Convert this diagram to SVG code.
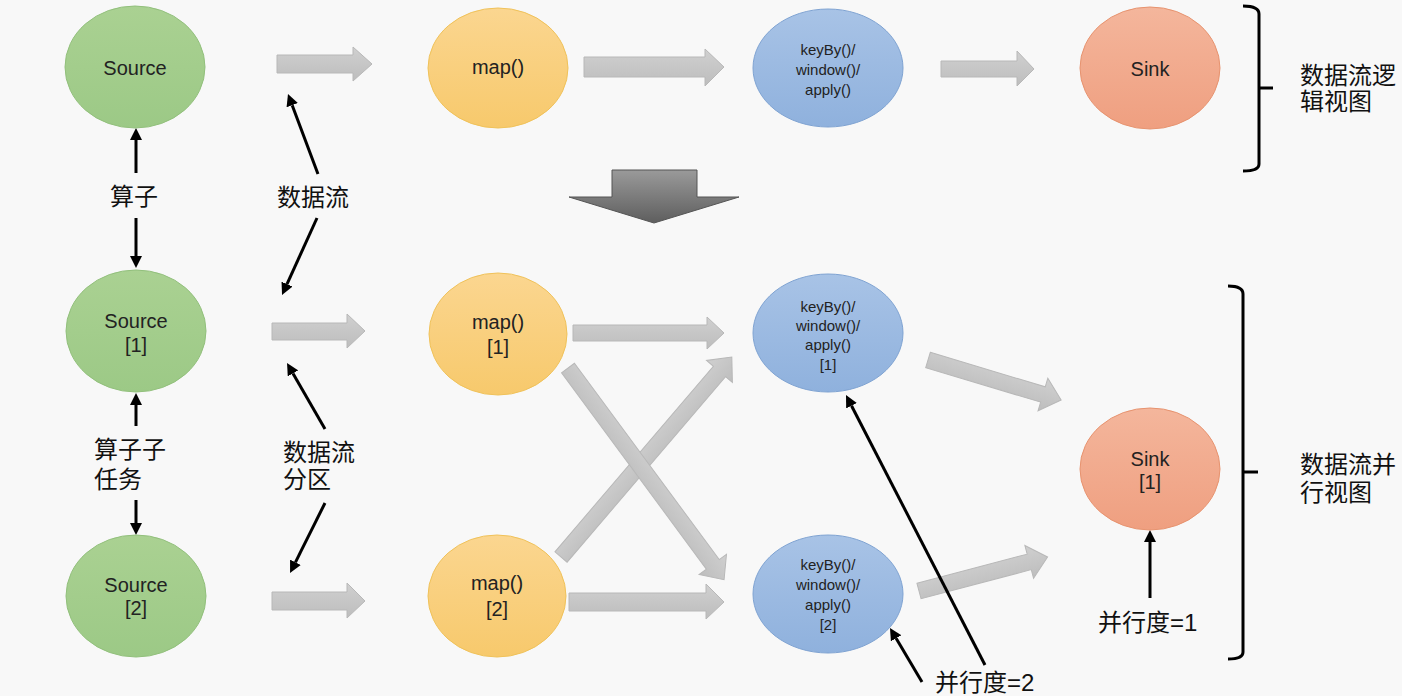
<svg xmlns="http://www.w3.org/2000/svg" width="1402" height="696" viewBox="0 0 1402 696">
<defs>
<linearGradient id="gGreen" x1="0" y1="0" x2="0" y2="1"><stop offset="0" stop-color="#aad192"/><stop offset="1" stop-color="#9cc986"/></linearGradient>
<linearGradient id="gYellow" x1="0" y1="0" x2="0" y2="1"><stop offset="0" stop-color="#fbd690"/><stop offset="1" stop-color="#f7c96c"/></linearGradient>
<linearGradient id="gBlue" x1="0" y1="0" x2="0" y2="1"><stop offset="0" stop-color="#a8c3e6"/><stop offset="1" stop-color="#8fb1dd"/></linearGradient>
<linearGradient id="gRed" x1="0" y1="0" x2="0" y2="1"><stop offset="0" stop-color="#f4b69c"/><stop offset="1" stop-color="#ef9f80"/></linearGradient>
<linearGradient id="gGray" x1="0" y1="0" x2="0" y2="1"><stop offset="0" stop-color="#d0d0d0"/><stop offset="1" stop-color="#bdbdbd"/></linearGradient>
<linearGradient id="gDark" x1="0" y1="0" x2="0" y2="1"><stop offset="0" stop-color="#9a9a9a"/><stop offset="1" stop-color="#5e5e5e"/></linearGradient>
<marker id="ah" viewBox="0 -6 12 12" refX="0" refY="0" markerWidth="12" markerHeight="12" markerUnits="userSpaceOnUse" orient="auto"><path d="M0,-6 L12,0 L0,6 z" fill="#000"/></marker>
</defs>
<style>
.lbl{font-family:"Liberation Sans",Arial,sans-serif;font-size:20px;fill:#222;text-anchor:middle}
.sm{font-family:"Liberation Sans",Arial,sans-serif;font-size:15px;fill:#222;text-anchor:middle}
.cn{font-family:"Liberation Sans","Noto Sans CJK SC",sans-serif;font-size:24px;fill:#111}
.src{fill:url(#gGreen);stroke:#92c07c;stroke-width:1}
.map{fill:url(#gYellow);stroke:#f0c25a;stroke-width:1}
.kb{fill:url(#gBlue);stroke:#7fa3d2;stroke-width:1}
.snk{fill:url(#gRed);stroke:#e7936f;stroke-width:1}
.ga{fill:url(#gGray);stroke:#b8b8b8;stroke-width:1}
.bl{stroke:#000;stroke-width:3;fill:none;marker-end:url(#ah)}
.br{stroke:#000;stroke-width:3;fill:none;stroke-linejoin:round}
</style>
<rect x="0" y="0" width="1402" height="696" fill="#f8f8f8"/>

<g id="connectors">
  <path class="ga" d="M277,55 H353 V47 L372,64 L353,81 V73 H277 Z"/>
  <path class="ga" d="M584,57 H705 V49 L724,67 L705,86 V77 H584 Z"/>
  <path class="ga" d="M941,61 H1017 V51 L1034,69 L1017,86 V77 H941 Z"/>
  <path class="ga" d="M272,323 H347 V314 L365,331 L347,348 V340 H272 Z"/>
  <path class="ga" d="M573,325 H707 V317 L724,333 L707,349 V341 H573 Z"/>
  <path class="ga" d="M272,592 H347 V583 L365,601 L347,618 V610 H272 Z"/>
  <path class="ga" d="M569,593 H706 V584 L724,602 L706,619 V611 H569 Z"/>
  <path class="ga" transform="translate(561,557) rotate(-49.5)" d="M0,-8 H244 V-17 L263,0 L244,17 V8 H0 Z"/>
  <path class="ga" transform="translate(568,368) rotate(53.6)" d="M0,-8 H244 V-17 L263,0 L244,17 V8 H0 Z"/>
  <path class="ga" transform="translate(928,360) rotate(16.7)" d="M0,-8 H120 V-17 L139,0 L120,17 V8 H0 Z"/>
  <path class="ga" transform="translate(919,591) rotate(-14.8)" d="M0,-8 H114 V-17 L133,0 L114,17 V8 H0 Z"/>
  <path d="M612,170 H697 V197 H739 L654,223 L569,197 H612 Z" fill="url(#gDark)" stroke="#555" stroke-width="1"/>
  <line class="bl" x1="136" y1="173" x2="136" y2="140"/>
  <line class="bl" x1="136" y1="218" x2="136" y2="256"/>
  <line class="bl" x1="318" y1="174" x2="292.2" y2="105.2"/>
  <line class="bl" x1="317" y1="218" x2="287" y2="284.1"/>
  <line class="bl" x1="136" y1="426" x2="136" y2="405"/>
  <line class="bl" x1="136" y1="500" x2="136" y2="523"/>
  <line class="bl" x1="325" y1="429" x2="293" y2="373.4"/>
  <line class="bl" x1="325" y1="503" x2="295.4" y2="562.3"/>
  <line class="bl" x1="985" y1="665" x2="851.5" y2="405.7"/>
  <line class="bl" x1="922" y1="682" x2="896.1" y2="638.3"/>
  <line class="bl" x1="1150" y1="598" x2="1150" y2="542"/>
  <path class="br" d="M1243,6 Q1259,6 1259,14 V88 H1273 M1259,88 V164 Q1259,171 1243,171"/>
  <path class="br" d="M1228,286 Q1243,286 1243,294 V472 H1258 M1243,472 V652 Q1243,659 1228,659"/>
</g>

<g id="source"><ellipse class="src" cx="135" cy="67" rx="70" ry="61"/><text class="lbl" x="135" y="75">Source</text></g>
<g id="map"><ellipse class="map" cx="498" cy="68" rx="70" ry="60"/><text class="lbl" x="498" y="74">map()</text></g>
<g id="keyby"><ellipse class="kb" cx="828" cy="68" rx="75" ry="59"/><text class="sm" x="828" y="55">keyBy()/</text><text class="sm" x="828" y="75">window()/</text><text class="sm" x="828" y="95">apply()</text></g>
<g id="sink"><ellipse class="snk" cx="1150" cy="68" rx="70" ry="61"/><text class="lbl" x="1150" y="76">Sink</text></g>

<g id="source1"><ellipse class="src" cx="136" cy="331" rx="70" ry="61"/><text class="lbl" x="136" y="328">Source</text><text class="lbl" x="136" y="352">[1]</text></g>
<g id="source2"><ellipse class="src" cx="136" cy="596" rx="70" ry="61"/><text class="lbl" x="136" y="592">Source</text><text class="lbl" x="136" y="615">[2]</text></g>
<g id="map1"><ellipse class="map" cx="498" cy="334" rx="69" ry="61"/><text class="lbl" x="498" y="329">map()</text><text class="lbl" x="498" y="354">[1]</text></g>
<g id="map2"><ellipse class="map" cx="497" cy="596" rx="69" ry="61"/><text class="lbl" x="497" y="590">map()</text><text class="lbl" x="497" y="616">[2]</text></g>
<g id="keyby1"><ellipse class="kb" cx="828" cy="333" rx="75" ry="59"/><text class="sm" x="828" y="312">keyBy()/</text><text class="sm" x="828" y="331">window()/</text><text class="sm" x="828" y="350">apply()</text><text class="sm" x="828" y="370">[1]</text></g>
<g id="keyby2"><ellipse class="kb" cx="828" cy="594" rx="75" ry="59"/><text class="sm" x="828" y="570">keyBy()/</text><text class="sm" x="828" y="590">window()/</text><text class="sm" x="828" y="610">apply()</text><text class="sm" x="828" y="630">[2]</text></g>
<g id="sink1"><ellipse class="snk" cx="1150" cy="469" rx="70" ry="61"/><text class="lbl" x="1150" y="466">Sink</text><text class="lbl" x="1150" y="489">[1]</text></g>

<g id="labels">
  <text class="cn" x="110" y="205">算子</text>
  <text class="cn" x="277" y="206">数据流</text>
  <text class="cn" x="94" y="458">算子子</text>
  <text class="cn" x="94" y="488">任务</text>
  <text class="cn" x="283" y="461">数据流</text>
  <text class="cn" x="283" y="488">分区</text>
  <text class="cn" x="935" y="691">并行度=2</text>
  <text class="cn" x="1098" y="631">并行度=1</text>
  <text class="cn" x="1300" y="84">数据流逻</text>
  <text class="cn" x="1300" y="110">辑视图</text>
  <text class="cn" x="1300" y="473">数据流并</text>
  <text class="cn" x="1300" y="501">行视图</text>
</g>
</svg>
